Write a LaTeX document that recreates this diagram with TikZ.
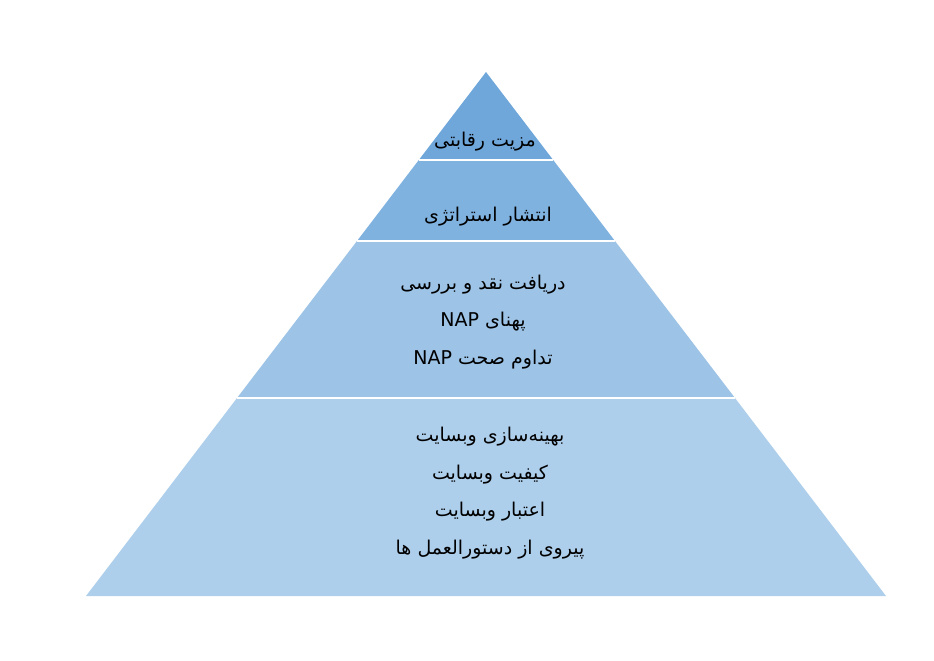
\documentclass[tikz,border=0pt]{standalone}
\usepackage{fontspec}
\newfontfamily\arabicfont[Script=Arabic]{DejaVu Sans}
\TeXXeTstate=1
\definecolor{layerA}{RGB}{111,167,219}
\definecolor{layerB}{RGB}{128,178,224}
\definecolor{layerC}{RGB}{157,195,230}
\definecolor{layerD}{RGB}{174,207,235}

\begin{document}
\begin{tikzpicture}[x=1pt, y=-1pt, sep/.style = {draw=white, line width=1.8pt}, layertext/.style = {font=\arabicfont\fontsize{19}{37.5}\selectfont, align=center, inner sep=0pt}]

    \useasboundingbox (0,0) rectangle (934,661);

    % corners of the pyramid
    \coordinate (apex) at (486,72);
    \coordinate (l1) at (418.8,160); \coordinate (r1) at (553.2,160);
    \coordinate (l2) at (357,241);   \coordinate (r2) at (615,241);
    \coordinate (l3) at (237,398);   \coordinate (r3) at (735,398);
    \coordinate (l4) at (86,596);    \coordinate (r4) at (886,596);

    % layers
    \fill[layerA] (apex) -- (r1) -- (l1) -- cycle;
    \fill[layerB] (l1) -- (r1) -- (r2) -- (l2) -- cycle;
    \fill[layerC] (l2) -- (r2) -- (r3) -- (l3) -- cycle;
    \fill[layerD] (l3) -- (r3) -- (r4) -- (l4) -- cycle;
    \draw[sep] (l1) -- (r1);
    \draw[sep] (l2) -- (r2);
    \draw[sep] (l3) -- (r3);

    % texts
    \node[layertext] (advantage) at (485,142) {\beginR مزیت رقابتی\endR};
    \node[layertext] (spread) at (488,217) {\beginR انتشار استراتژی\endR};
    \node[layertext] (reviews) at (483,322) {\beginR دریافت نقد و بررسی\endR\\
        \beginR پهنای \beginL NAP\endL{}\endR\\
        \beginR تداوم صحت \beginL NAP\endL{}\endR};
    \node[layertext] (website) at (490,493) {\beginR بهینه‌سازی وبسایت\endR\\
        \beginR کیفیت وبسایت\endR\\
        \beginR اعتبار وبسایت\endR\\
        \beginR پیروی از دستورالعمل ها\endR};

\end{tikzpicture}
\end{document}
